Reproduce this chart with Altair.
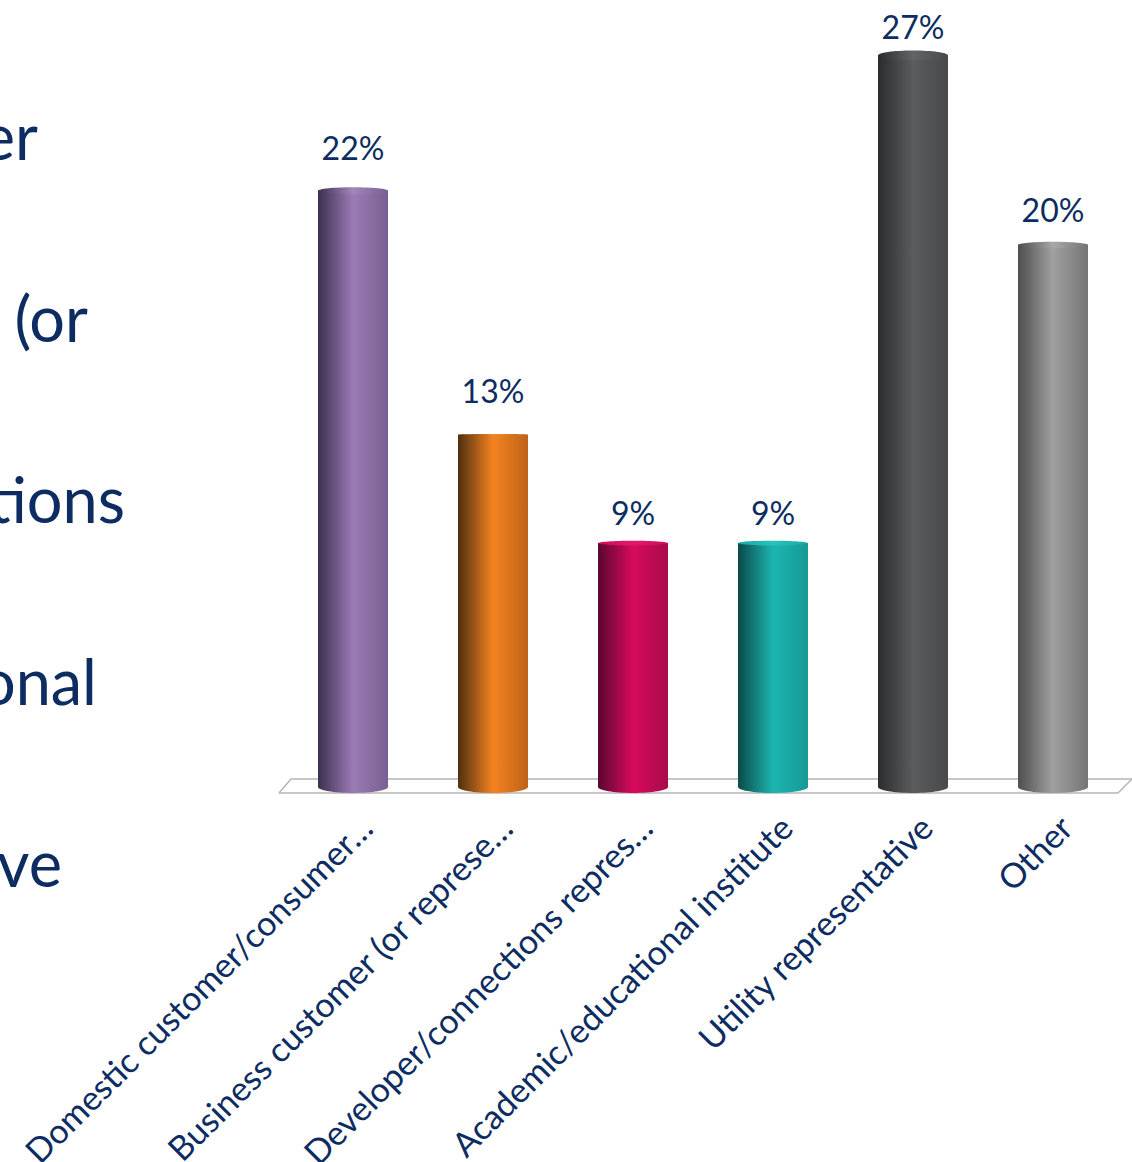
import altair as alt
import pandas as pd

# Survey shares by respondent type
categories = [
    "Domestic customer/consumer…",
    "Business customer (or represe…",
    "Developer/connections repres…",
    "Academic/educational institute",
    "Utility representative",
    "Other",
]
values = [22, 13, 9, 9, 27, 20]
dark_edges = ["#3b3050", "#4f2f10", "#5a0632", "#0b4a4a", "#2b2c2d", "#4e4e4e"]
mid_tones = ["#9b7bb6", "#f58220", "#d80b5c", "#1cb5b0", "#5a5c5e", "#a0a0a0"]
right_edges = ["#77608f", "#bd6318", "#a80b4c", "#169a96", "#48494b", "#757575"]
cap_left = ["#3b3050", "#4f2f10", "#cf0a58", "#18aaa5", "#2b2c2d", "#4e4e4e"]
cap_mid = ["#a386bc", "#f58a2c", "#e5186a", "#26c2bc", "#626466", "#a8a8a8"]
cap_right = ["#77608f", "#bd6318", "#cf0a58", "#18aaa5", "#48494b", "#757575"]
cap_depths = [0.10, 0.02, 0.07, 0.07, 0.14, 0.09]
label_shift = [-41, -42, -28, -28, -26, -33]

# Ends of the cropped text lines running along the left edge
side_text = ["er", "(or", "tions", "onal", "ve"]

INK = "#0c2c62"
FONT = "Lato"
FLOOR = "#b4b4b4"

x_enc = alt.X(
    "cat:N",
    scale=alt.Scale(domain=categories, paddingInner=0.5, paddingOuter=0.25),
    title=None,
    axis=alt.Axis(domain=False, ticks=False, grid=False, labelAngle=-45,
                  labelFont=FONT, labelFontSize=34, labelColor=INK,
                  labelPadding=24, labelLimit=600, labelOverlap=False,
                  labelOffset=3),
)
y_scale = alt.Scale(domain=[0, 29.04], range=[787, 0])
y_val = alt.Y("val:Q", scale=y_scale, axis=None)
y_zero = alt.Y("zero:Q", scale=y_scale, axis=None)

LOWER = "M-1,-0.2 L1,-0.2 L1,0 A1,0.17 0 0,1 -1,0 Z"


def ellipse(depth):
    return f"M-1,0 A1,{depth} 0 1,0 1,0 A1,{depth} 0 1,0 -1,0 Z"


def gradient(left, middle, right):
    return {
        "gradient": "linear", "x1": 0, "x2": 1, "y1": 0, "y2": 0,
        "stops": [
            {"color": left, "offset": 0},
            {"color": middle, "offset": 0.5},
            {"color": right, "offset": 1},
        ],
    }


def floor_edge(x, x2, y, y2):
    return alt.Chart(pd.DataFrame({"k": [0]})).mark_rule(
        color=FLOOR, strokeWidth=1.5
    ).encode(
        x=alt.value(x), x2=alt.value(x2), y=alt.value(y), y2=alt.value(y2)
    )


layers = [
    floor_edge(8, 849, 779, 779),
    floor_edge(-4, 835, 793, 793),
    floor_edge(-4, 8, 793, 779),
    floor_edge(835, 849, 793, 779),
]

for i, (cat, val) in enumerate(zip(categories, values)):
    row = pd.DataFrame({"cat": [cat], "val": [val], "zero": [0], "label": [f"{val}%"]})
    fill = gradient(dark_edges[i], mid_tones[i], right_edges[i])
    top = gradient(cap_left[i], cap_mid[i], cap_right[i])
    base = alt.Chart(row)
    layers.append(
        base.mark_point(shape=LOWER, filled=True, color=fill, opacity=1, size=4900, strokeWidth=0)
        .encode(x=x_enc, y=y_zero)
    )
    layers.append(
        base.mark_bar(size=70, color=fill).encode(x=x_enc, y=y_val, y2="zero:Q")
    )
    layers.append(
        base.mark_point(shape=ellipse(cap_depths[i]), filled=True, color=top, opacity=1,
                        size=4900, strokeWidth=0)
        .encode(x=x_enc, y=y_val)
    )
    layers.append(
        base.mark_text(font=FONT, fontSize=32, color=INK, dy=label_shift[i])
        .encode(x=x_enc, y=y_val, text="label:N")
    )

# Right-aligned fragments whose starts fall off the left edge
side_ends = [38, 88, 125, 97, 62]
side_baselines = [160, 342, 523, 705, 887]
for word, end, base_y in zip(side_text, side_ends, side_baselines):
    layers.append(
        alt.Chart(pd.DataFrame({"word": [word]})).mark_text(
            font=FONT, fontSize=63, color=INK, align="right", baseline="alphabetic"
        ).encode(
            x=alt.value(end - 283), y=alt.value(base_y), text="word:N"
        )
    )

chart = alt.layer(*layers).properties(
    width=840,
    height=787,
    padding={"left": 283, "top": 0, "right": 9, "bottom": 375},
    autosize=alt.AutoSizeParams(type="none"),
    background="white",
).configure_view(stroke=None)

chart.save("out.html", embed_options={"renderer": "svg", "actions": False})
